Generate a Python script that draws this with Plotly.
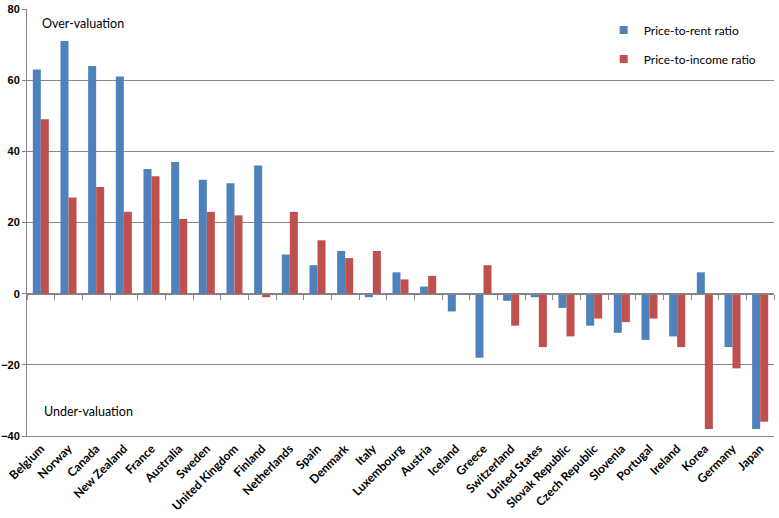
import plotly.graph_objects as go

countries = ["Belgium", "Norway", "Canada", "New Zealand", "France", "Australia",
             "Sweden", "United Kingdom", "Finland", "Netherlands", "Spain", "Denmark",
             "Italy", "Luxembourg", "Austria", "Iceland", "Greece", "Switzerland",
             "United States", "Slovak Republic", "Czech Republic", "Slovenia",
             "Portugal", "Ireland", "Korea", "Germany", "Japan"]
price_to_rent = [63, 71, 64, 61, 35, 37, 32, 31, 36, 11, 8, 12, -1, 6, 2, -5, -18,
                 -2, -1, -4, -9, -11, -13, -12, 6, -15, -38]
price_to_income = [49, 27, 30, 23, 33, 21, 23, 22, -1, 23, 15, 10, 12, 4, 5, 0, 8,
                   -9, -15, -12, -7, -8, -7, -15, -38, -21, -36]
series_names = ["Price-to-rent ratio", "Price-to-income ratio"]
y_ticks = [-40, -20, 0, 20, 40, 60, 80]

BLUE = "#4F81BD"
RED = "#C0504D"
GRID = "#868686"

fig = go.Figure()
for name, vals, col, grp in [(series_names[0], price_to_rent, BLUE, "a"),
                             (series_names[1], price_to_income, RED, "b")]:
    fig.add_trace(go.Bar(x=countries, y=vals, name=name, showlegend=False,
                         marker=dict(color=col, line=dict(width=0)), legendgroup=grp))
    # legend-only entry with a small square swatch
    fig.add_trace(go.Scatter(x=[None], y=[None], name=name, mode="markers",
                             marker=dict(symbol="square", size=8, color=col),
                             legendgroup=grp, hoverinfo="skip"))
# invisible trace to carry the zero-line tick axis
fig.add_trace(go.Scatter(x=countries, y=price_to_rent, xaxis="x2", mode="markers",
                         marker=dict(opacity=0), showlegend=False, hoverinfo="skip"))

fig.update_layout(
    width=779, height=518,
    margin=dict(l=27, r=5, t=9, b=82),
    plot_bgcolor="white", paper_bgcolor="white",
    barmode="group", bargap=0.42, bargroupgap=0,
    font=dict(family="Lato", color="black"),
    xaxis=dict(type="category", range=[-0.5, len(countries) - 0.5],
               tickangle=-45, automargin=False,
               tickfont=dict(family="Lato", size=12, color="black", weight="bold"),
               showgrid=False, showline=True, linecolor=GRID, linewidth=1,
               ticks="", zeroline=False),
    xaxis2=dict(type="category", overlaying="x", anchor="free", position=1/3,
                range=[-0.5, len(countries) - 0.5], showticklabels=False,
                ticks="outside", ticklen=5, tickcolor=GRID, tickson="boundaries",
                showline=True, linecolor=GRID, linewidth=1, showgrid=False,
                automargin=False),
    yaxis=dict(range=[-40, 80], tickvals=y_ticks, showgrid=True, gridcolor=GRID,
               gridwidth=1, zeroline=True, zerolinecolor=GRID, zerolinewidth=1,
               showline=True, linecolor=GRID, linewidth=1, ticks="outside",
               ticklen=4, tickcolor=GRID, automargin=False,
               tickfont=dict(family="Liberation Sans", size=11, color="black",
                             weight="bold")),
    legend=dict(x=0.772, y=0.985, xanchor="left", yanchor="top",
                font=dict(family="Lato", size=12, color="black"),
                bgcolor="rgba(0,0,0,0)", tracegroupgap=10, itemwidth=30),
    annotations=[
        dict(text="Over-valuation", xref="paper", yref="paper", x=0.017, y=0.965,
             xanchor="left", yanchor="middle", showarrow=False,
             font=dict(family="Lato", size=12.5, color="black")),
        dict(text="Under-valuation", xref="paper", yref="paper", x=0.02, y=0.057,
             xanchor="left", yanchor="middle", showarrow=False,
             font=dict(family="Lato", size=12.5, color="black")),
    ],
)

fig.write_html("out.html", config={"displayModeBar": False},
               post_script="document.body.style.margin='0';document.body.style.overflow='hidden';")
